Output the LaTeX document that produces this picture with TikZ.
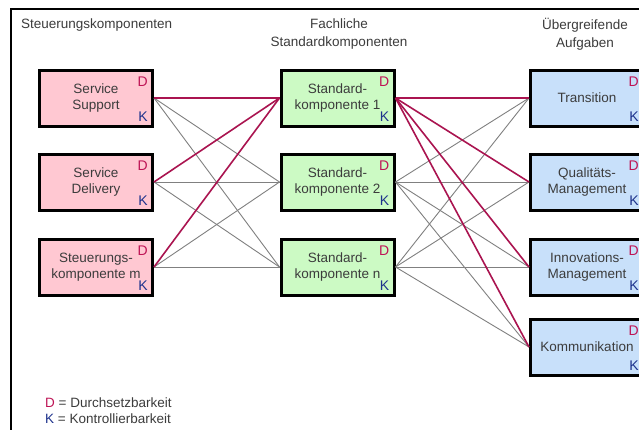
\documentclass[tikz,border=0pt]{standalone}
\usepackage{fontspec}
\setmainfont{Liberation Sans}
\usetikzlibrary{positioning}

\definecolor{boxpink}{RGB}{255,200,210}
\definecolor{boxgreen}{RGB}{204,250,196}
\definecolor{boxblue}{RGB}{200,224,250}
\definecolor{dred}{RGB}{190,20,85}
\definecolor{kblue}{RGB}{30,50,140}
\definecolor{linkred}{RGB}{170,20,80}
\definecolor{txtgrey}{RGB}{60,60,60}

\tikzset{
    comp/.style={draw=black, line width=3pt, minimum width=113pt, minimum height=56pt,
        align=center, text=txtgrey, font=\fontsize{13.5}{16}\selectfont},
    dmark/.style={text=dred, inner sep=0pt, font=\fontsize{14}{16}\selectfont},
    kmark/.style={text=kblue, inner sep=0pt, font=\fontsize{14}{16}\selectfont},
    head/.style={text=txtgrey, inner sep=0pt, align=center, font=\fontsize{13.5}{18}\selectfont},
    link/.style={draw=gray, line width=0.9pt},
    keylink/.style={draw=linkred, line width=1.6pt}
}

\begin{document}
\begin{tikzpicture}[x=1pt, y=1pt]
    \useasboundingbox (0,0) rectangle (639,-429);
    \fill[white] (0,0) rectangle (639,-429);

    % outer frame
    \draw[line width=2.5pt] (11,-520) -- (11,-9) -- (720,-9);

    % column headings
    \node[head, anchor=west] (hsteu) at (21,-25) {Steuerungskomponenten};
    \node[head] (hfach) at (339,-34) {Fachliche\\Standardkomponenten};
    \node[head] (hauf) at (585,-34) {Übergreifende\\Aufgaben};

    % Steuerungskomponenten
    \node[comp, fill=boxpink] (ss) at (96,-98) {Service\\Support};
    \node[comp, fill=boxpink] (sd) at (96,-182) {Service\\Delivery};
    \node[comp, fill=boxpink] (sm) at (96,-267) {Steuerungs-\\komponente m};

    % fachliche Standardkomponenten
    \node[comp, fill=boxgreen] (s1) at (337.5,-98) {Standard-\\komponente 1};
    \node[comp, fill=boxgreen] (s2) at (337.5,-182) {Standard-\\komponente 2};
    \node[comp, fill=boxgreen] (sn) at (337.5,-267) {Standard-\\komponente n};

    % uebergreifende Aufgaben
    \node[comp, fill=boxblue] (tr) at (587,-98) {Transition};
    \node[comp, fill=boxblue] (qm) at (587,-182) {Qualitäts-\\Management};
    \node[comp, fill=boxblue] (im) at (587,-267) {Innovations-\\Management};
    \node[comp, fill=boxblue] (ko) at (587,-347) {Kommunikation};

    % D and K marks
    \foreach \n in {ss,sd,sm,s1,s2,sn,tr,qm,im,ko} {
        \node[dmark, below left=8pt and 6pt of \n.north east] (\n-d) {D};
        \node[kmark, above left=6pt and 6pt of \n.south east] (\n-k) {K};
    }

    % links
    \foreach \a in {ss,sd,sm}
        \foreach \b in {s2,sn}
            \draw[link] (\a.east) -- (\b.west);
    \foreach \a in {s2,sn}
        \foreach \b in {tr,qm,im,ko}
            \draw[link] (\a.east) -- (\b.west);
    \draw[keylink] (ss.east) -- (s1.west);
    \draw[keylink] (sd.east) -- (s1.west);
    \draw[keylink] (sm.east) -- (s1.west);
    \draw[keylink] (s1.east) -- (tr.west);
    \draw[keylink] (s1.east) -- (qm.west);
    \draw[keylink] (s1.east) -- (im.west);
    \draw[keylink] (s1.east) -- (ko.west);

    % legend
    \node[head, anchor=west] (legd) at (45,-403) {\textcolor{dred}{D} = Durchsetzbarkeit};
    \node[head, anchor=west] (legk) at (45,-419) {\textcolor{kblue}{K} = Kontrollierbarkeit};
\end{tikzpicture}
\end{document}
